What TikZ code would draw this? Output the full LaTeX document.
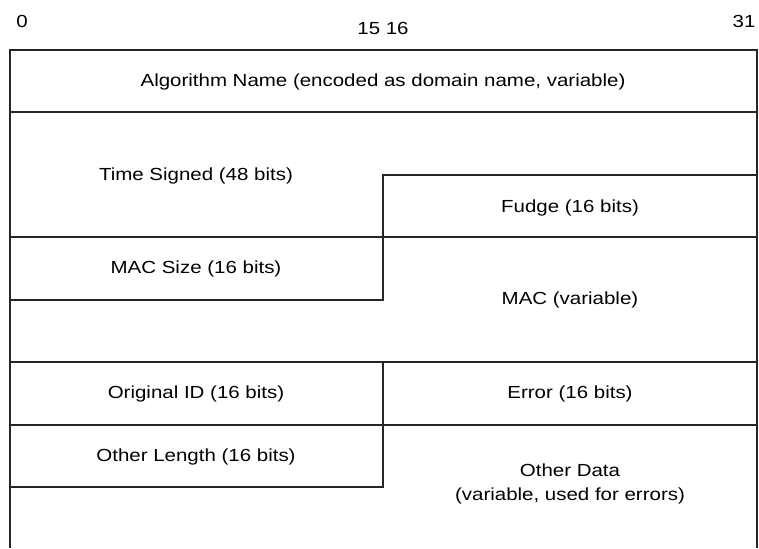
\documentclass[tikz,border=0pt]{standalone}
\usepackage{fontspec}
\setmainfont[FakeStretch=1.17]{Liberation Sans}
\begin{document}
\begin{tikzpicture}[x=1pt,y=-1pt,
  lbl/.style={font=\fontsize{17.5}{23.5}\selectfont, inner sep=0pt, align=center},
  rule/.style={line width=1.1pt, draw=black!85}]
\useasboundingbox (0,0) rectangle (759,548);
% bit numbers
\node[lbl] (b0) at (22,21) {0};
\node[lbl] (b15) at (383,28) {15 16};
\node[lbl] (b31) at (744,21) {31};
% outer frame
\draw[rule] (10,548) -- (10,50) -- (757,50) -- (757,548);
% full-width separators
\draw[rule] (10,112) -- (757,112);
\draw[rule] (10,237) -- (757,237);
\draw[rule] (10,362) -- (757,362);
\draw[rule] (10,425) -- (757,425);
% steps
\draw[rule] (757,175) -- (383,175) -- (383,237);
\draw[rule] (383,237) -- (383,300) -- (10,300);
\draw[rule] (383,362) -- (383,425);
\draw[rule] (383,425) -- (383,487) -- (10,487);
% labels
\node[lbl] (alg) at (383,82) {Algorithm Name (encoded as domain name, variable)};
\node[lbl] (time) at (196,176) {Time Signed (48 bits)};
\node[lbl] (fudge) at (570,208) {Fudge (16 bits)};
\node[lbl] (macsize) at (196,269) {MAC Size (16 bits)};
\node[lbl] (mac) at (570,300) {MAC (variable)};
\node[lbl] (origid) at (196,394) {Original ID (16 bits)};
\node[lbl] (err) at (570,394) {Error (16 bits)};
\node[lbl] (olen) at (196,457) {Other Length (16 bits)};
\node[lbl] (odata) at (570,484) {Other Data\\(variable, used for errors)};
\end{tikzpicture}
\end{document}
